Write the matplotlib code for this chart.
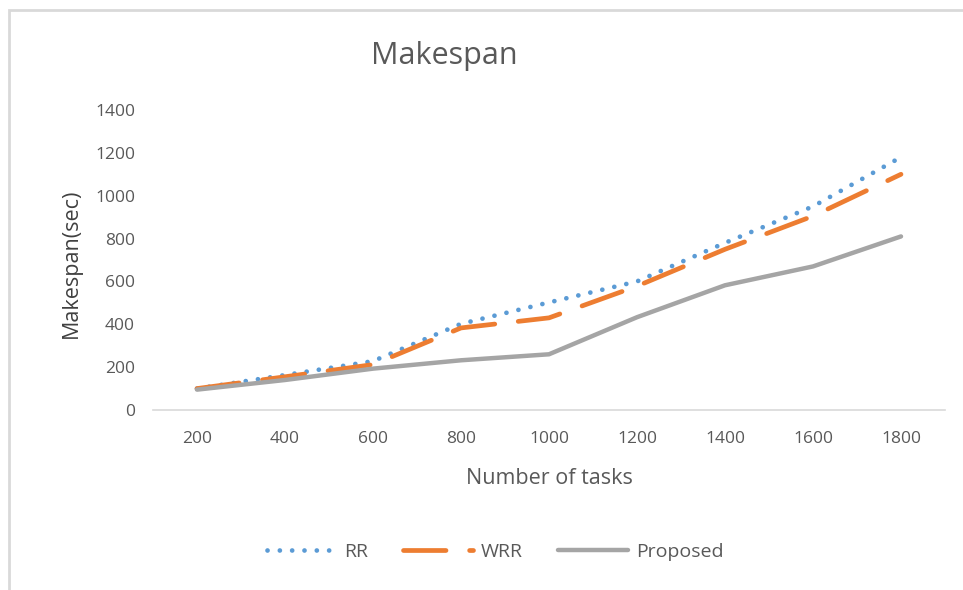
import matplotlib.pyplot as plt
from matplotlib.patches import Rectangle

plt.rcParams['font.family'] = ['Open Sans', 'DejaVu Sans']

tasks = ['200', '400', '600', '800', '1000', '1200', '1400', '1600', '1800']
rr = [100, 163, 228, 402, 502, 600, 780, 950, 1180]
wrr = [100, 155, 212, 383, 430, 578, 750, 905, 1100]
proposed = [95, 140, 193, 232, 260, 433, 582, 670, 810]

txt = '#595959'

fig = plt.figure(figsize=(9.63, 5.9), dpi=100)
ax = fig.add_axes([153/963, 1-410/590, 792/963, 300/590])

ax.plot(tasks, rr, color='#5B9BD5', lw=3.4, ls=(0, (0.01, 2.6)),
        dash_capstyle='round', label='RR')
ax.plot(tasks, wrr, color='#ED7D31', lw=3.4, ls=(0, (9, 5)),
        dash_capstyle='round', label='WRR')
ax.plot(tasks, proposed, color='#A5A5A5', lw=3.2, solid_capstyle='round',
        label='Proposed')

ax.set_xlim(-0.5, 8.5)
ax.set_ylim(0, 1400)
ax.set_yticks(range(0, 1401, 200))
for s in ['top', 'right', 'left']:
    ax.spines[s].set_visible(False)
ax.spines['bottom'].set_color('#D9D9D9')
ax.spines['bottom'].set_linewidth(1.2)
ax.tick_params(axis='both', length=0, labelsize=12.5, labelcolor=txt)
ax.tick_params(axis='x', pad=15)
ax.tick_params(axis='y', pad=13)

ax.set_xlabel('Number of tasks', fontsize=15.5, color=txt)
ax.xaxis.set_label_coords(0.5, -0.195)
ax.set_ylabel('Makespan(sec)', fontsize=15.5, color='#404040')
ax.yaxis.set_label_coords(-0.09, 0.49)

fig.text(444/963, 1-56/590, 'Makespan', fontsize=22, color=txt,
         ha='center', va='center')

fig.legend(loc='center', bbox_to_anchor=(495/963, 1-552/590), ncol=3,
           frameon=False, fontsize=14, labelcolor=txt, handlelength=3.6,
           columnspacing=1.8, handletextpad=0.4)

fig.patches.append(Rectangle((9/963, -0.1), 1.2, 1.1 - 10/590,
                             transform=fig.transFigure, fill=False,
                             edgecolor='#D9D9D9', lw=2))

fig.savefig('out.png', dpi=100)
